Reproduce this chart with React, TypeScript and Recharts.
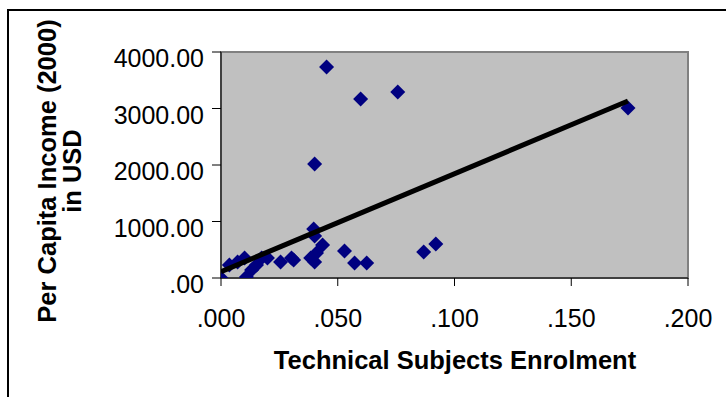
import {
  CartesianGrid,
  ReferenceArea,
  Scatter,
  ScatterChart,
  XAxis,
  YAxis,
} from "recharts";

// enrolment share vs per capita income
const enrolment = [
  0, 0.0036, 0.0071, 0.0101, 0.0109, 0.0131, 0.0152, 0.0174, 0.0199, 0.0255,
  0.0302, 0.0311, 0.0384, 0.0401, 0.0409, 0.0435, 0.0397, 0.0401, 0.0401, 0.0452,
  0.0529, 0.0572, 0.0624, 0.0598, 0.0757, 0.0868, 0.092, 0.1743,
];
const income = [
  0, 230, 283, 354, 18, 142, 230, 354, 354, 283,
  354, 319, 354, 283, 442, 584, 867, 743, 2018, 3735,
  478, 265, 265, 3168, 3292, 460, 602, 3009,
];

// linear trend line end points
const trendX = [0, 0.1743];
const trendY = [112, 3133];

const xTicks = [0, 0.05, 0.1, 0.15, 0.2];
const yTicks = [0, 1000, 2000, 3000, 4000];

const points = enrolment.map((x, i) => ({ x, y: income[i] }));
const trend = trendX.map((x, i) => ({ x, y: trendY[i] }));

const FONT = "'Liberation Sans', Arial, sans-serif";

function fmtX(v: number) {
  return v.toFixed(3).replace(/^0/, "");
}

function fmtY(v: number) {
  const s = v.toFixed(2);
  return s.startsWith("0") ? s.slice(1) : s;
}

function Diamond(props: any) {
  const { cx, cy } = props;
  if (cx == null || cy == null) return <g />;
  const r = 7.5;
  return (
    <polygon
      points={`${cx},${cy - r} ${cx + r},${cy} ${cx},${cy + r} ${cx - r},${cy}`}
      fill="#000080"
    />
  );
}

function NoDot() {
  return <g />;
}

function YTick(props: any) {
  const { x, y, payload } = props;
  return (
    <text x={x} y={y + 15} textAnchor="end" fontSize={25} fontFamily={FONT} fill="#000">
      {fmtY(payload.value)}
    </text>
  );
}

function XTick(props: any) {
  const { x, y, payload } = props;
  return (
    <text x={x} y={y + 19} textAnchor="middle" fontSize={25} fontFamily={FONT} fill="#000">
      {fmtX(payload.value)}
    </text>
  );
}

export default function App() {
  return (
    <div
      style={{
        position: "relative",
        width: 726,
        height: 397,
        overflow: "hidden",
        background: "#fff",
      }}
    >
      <style>{"body{margin:0;overflow:hidden}"}</style>
      <div
        style={{
          position: "absolute",
          left: 7,
          top: 9,
          width: 780,
          height: 460,
          border: "2px solid #000",
        }}
      />
      <div style={{ position: "absolute", left: 0, top: 0 }}>
        <ScatterChart
          width={726}
          height={397}
          margin={{ top: 52, right: 38, bottom: 0, left: 0 }}
        >
          <CartesianGrid
            fill="#C0C0C0"
            fillOpacity={1}
            horizontal={false}
            vertical={false}
          />
          <ReferenceArea
            x1={0}
            x2={0.2}
            y1={0}
            y2={4000}
            fill="none"
            stroke="#808080"
            strokeWidth={2}
          />
          <XAxis
            type="number"
            dataKey="x"
            domain={[0, 0.2]}
            ticks={xTicks}
            height={119}
            tickSize={8}
            tickMargin={22}
            stroke="#000"
            tick={<XTick />}
            allowDataOverflow
          />
          <YAxis
            type="number"
            dataKey="y"
            domain={[0, 4000]}
            ticks={yTicks}
            width={221}
            tickSize={9}
            tickMargin={8}
            stroke="#000"
            tick={<YTick />}
            allowDataOverflow
          />
          <Scatter data={points} shape={<Diamond />} isAnimationActive={false} />
          <Scatter
            data={trend}
            shape={<NoDot />}
            line={{ stroke: "#000", strokeWidth: 5 }}
            lineType="joint"
            isAnimationActive={false}
          />
        </ScatterChart>
      </div>
      <svg
        width={726}
        height={397}
        style={{ position: "absolute", left: 0, top: 0, pointerEvents: "none" }}
      >
        <text
          x={455}
          y={369}
          textAnchor="middle"
          fontSize={25.5}
          fontWeight="bold"
          fontFamily={FONT}
        >
          Technical Subjects Enrolment
        </text>
        <g transform="translate(56,171) rotate(-90)">
          <text x={0} y={0} textAnchor="middle" fontSize={25.5} fontWeight="bold" fontFamily={FONT}>
            Per Capita Income (2000)
          </text>
          <text x={0} y={25} textAnchor="middle" fontSize={25.5} fontWeight="bold" fontFamily={FONT}>
            in USD
          </text>
        </g>
      </svg>
    </div>
  );
}
